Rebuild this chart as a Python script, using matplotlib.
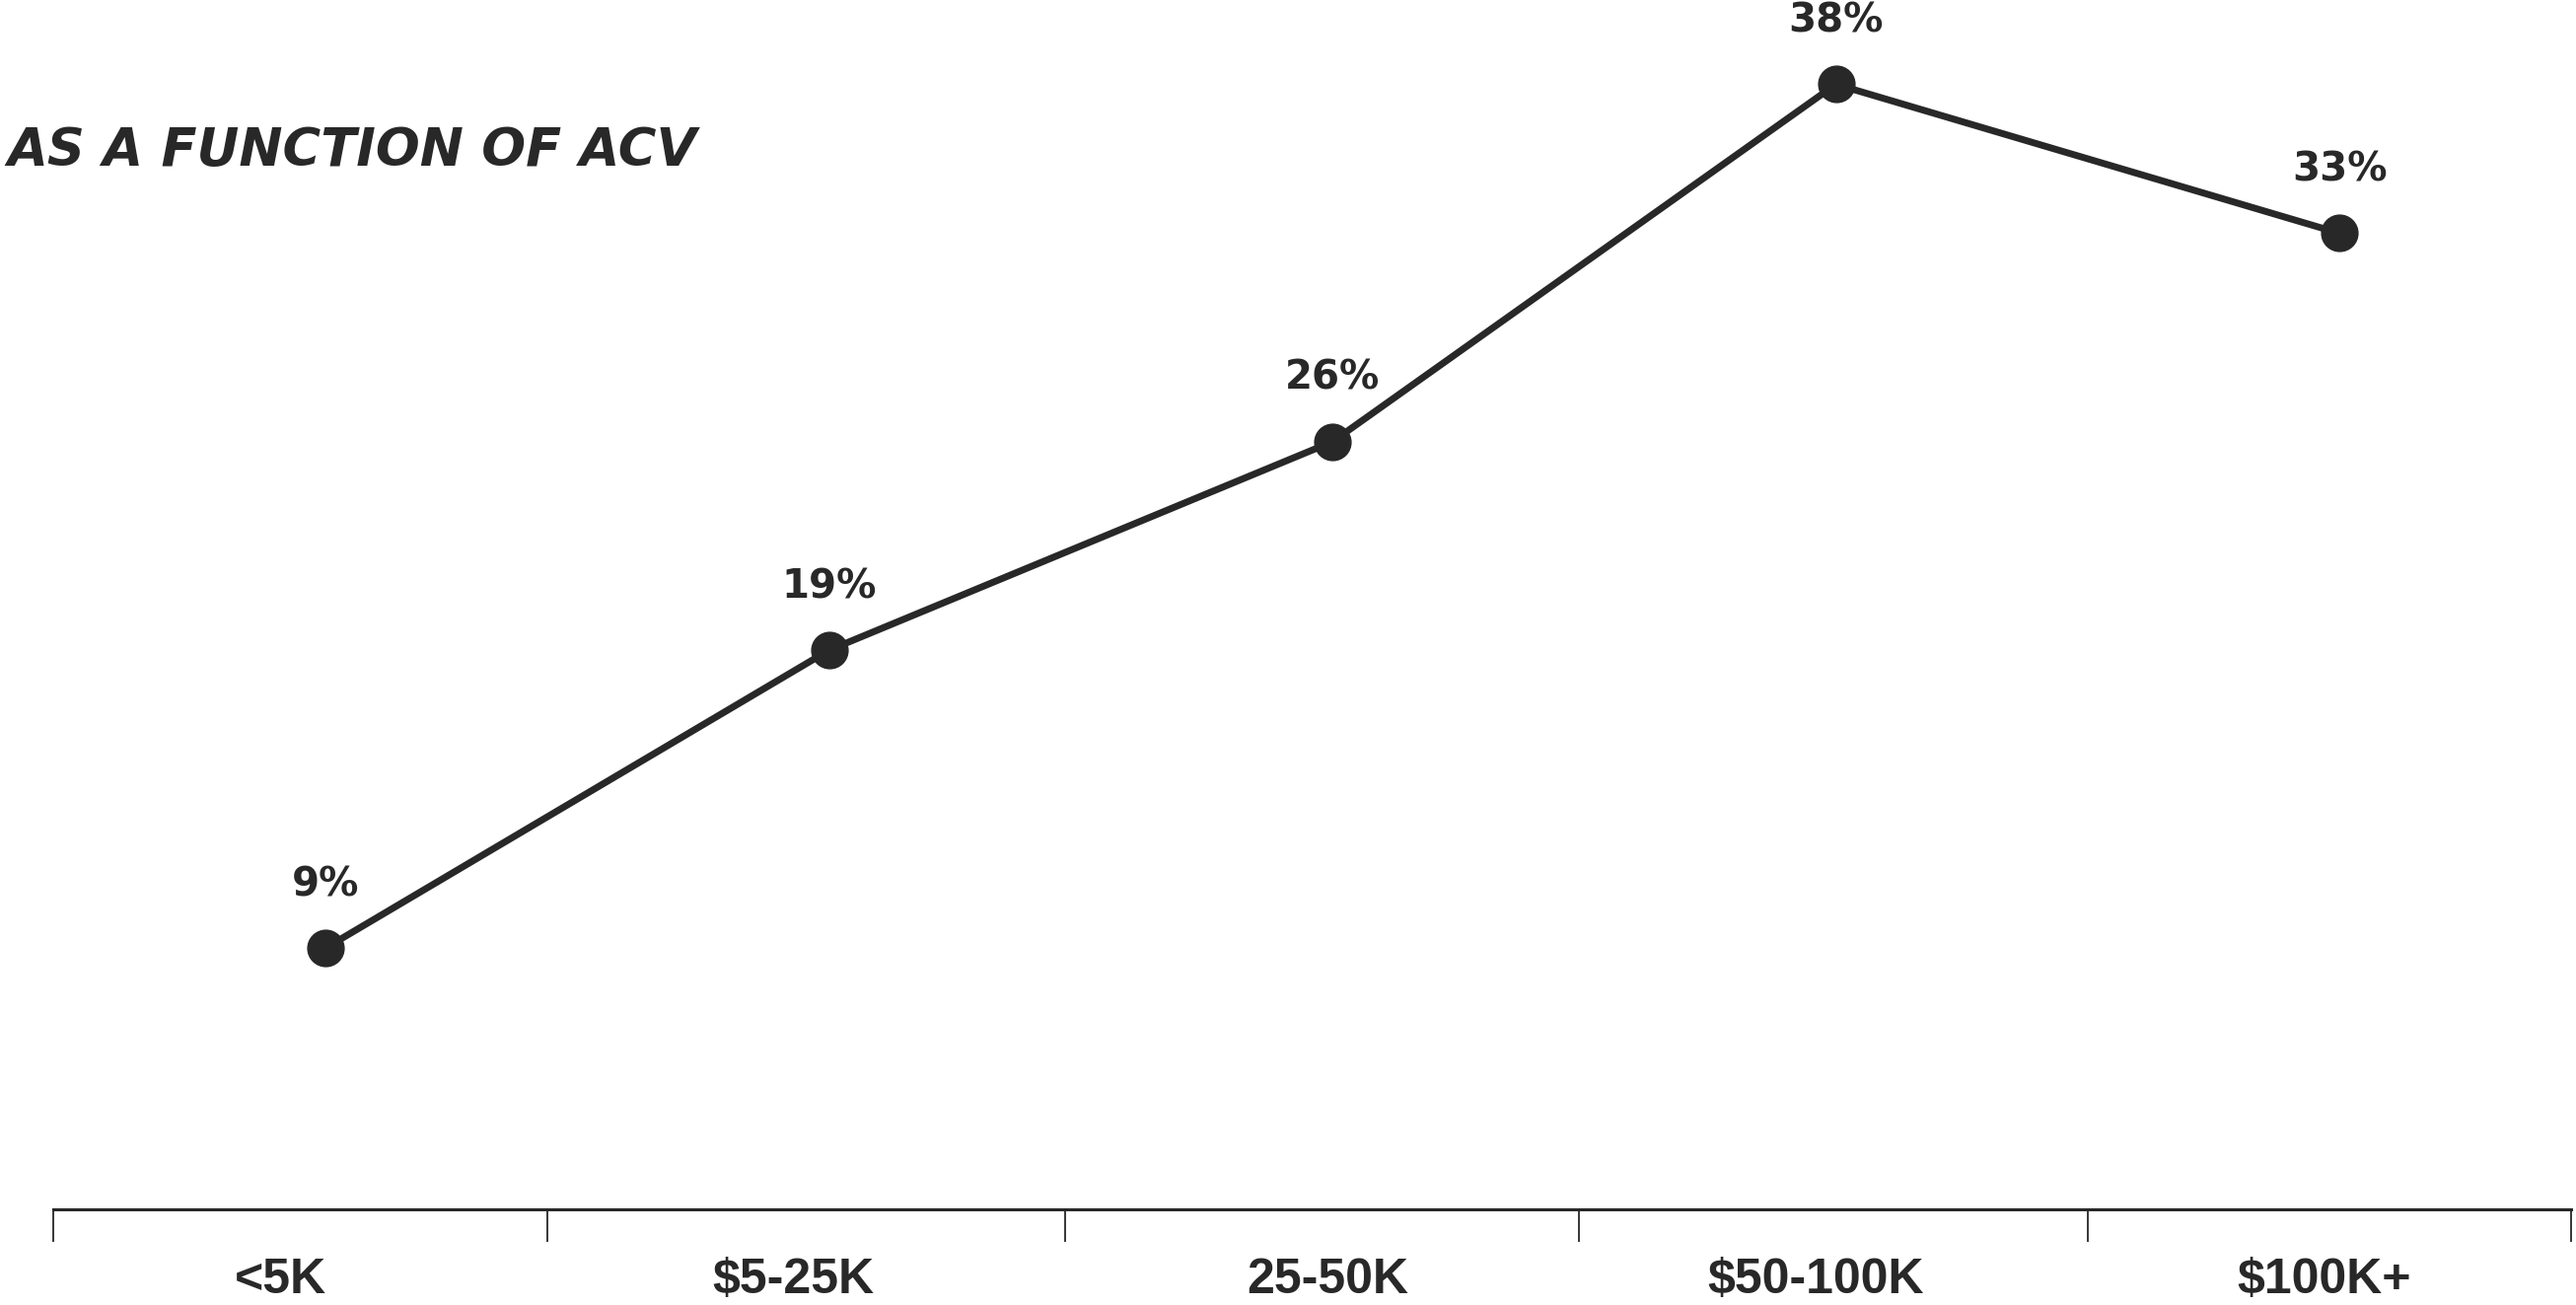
import numpy as np
import matplotlib.pyplot as plt
from matplotlib.transforms import blended_transform_factory

# Data
categories = ["<5K", "$5-25K", "25-50K", "$50-100K", "$100K+"]
values = [9, 19, 26, 38, 33]
value_labels = ["9%", "19%", "26%", "38%", "33%"]

ink = "#282828"
x = np.arange(len(categories))

fig = plt.figure(figsize=(26.12, 13.23), dpi=100)
ax = fig.add_axes([0, 97 / 1323, 1, 1226 / 1323])

ax.plot(x, values, color=ink, lw=5, marker="o", markersize=26.5,
        solid_capstyle="round", zorder=3)

for xi, v, lab in zip(x, values, value_labels):
    ax.annotate(lab, (xi, v), xytext=(0, 46), textcoords="offset points",
                ha="center", va="center", fontsize=29, fontweight="bold",
                family="DejaVu Sans", color=ink)

ax.set_xlim(-0.6464, 4.470)
ax.set_ylim(0.23, 40.83)

# axis: only bottom line with separator ticks between categories
for s in ["top", "right", "left"]:
    ax.spines[s].set_visible(False)
bounds = [-0.54, 0.44, 1.47, 2.49, 3.5, 4.46]
ax.spines["bottom"].set_bounds(bounds[0], bounds[-1])
ax.spines["bottom"].set_linewidth(2.2)
ax.spines["bottom"].set_color(ink)
ax.set_xticks(bounds)
ax.set_xticklabels([])
ax.tick_params(axis="x", direction="out", length=23.5, width=1.1, color="black")
ax.set_yticks([])

# category labels sit a little left of their points
label_x = [-0.09, 0.93, 1.99, 2.96, 3.97]
trans = blended_transform_factory(ax.transData, ax.transAxes)
for lx, cat in zip(label_x, categories):
    ax.text(lx, -72 / 1226, cat, transform=trans, ha="center", va="center",
            fontsize=36, fontweight="bold", family="Liberation Sans", color=ink)

fig.text(0.003, 1 - 153 / 1323, "AS A FUNCTION OF ACV", ha="left", va="center",
         fontsize=38, fontweight="bold", style="italic", family="DejaVu Sans",
         color=ink)

fig.savefig("out.png", dpi=100)
